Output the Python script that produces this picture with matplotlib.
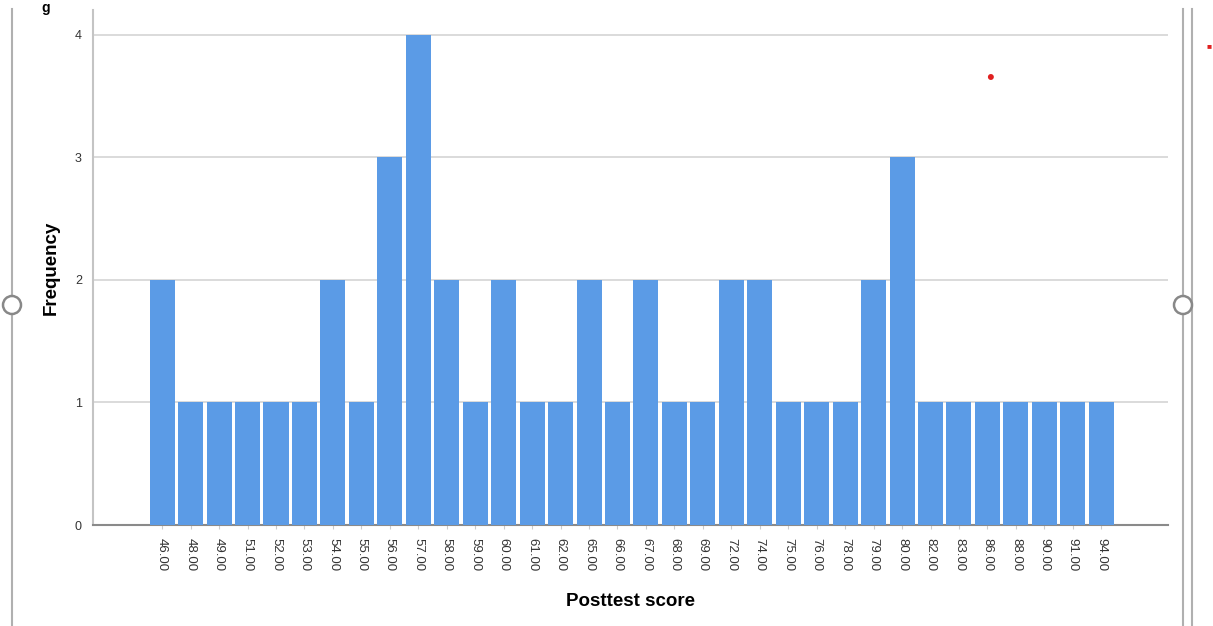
import matplotlib.pyplot as plt
from matplotlib.patches import Circle
from matplotlib.lines import Line2D

plt.rcParams['font.family'] = ['Liberation Sans', 'DejaVu Sans']

# posttest scores and how many students got each one
scores = [46, 48, 49, 51, 52, 53, 54, 55, 56, 57, 58, 59, 60, 61, 62, 65, 66,
          67, 68, 69, 72, 74, 75, 76, 78, 79, 80, 82, 83, 86, 88, 90, 91, 94]
counts = [2, 1, 1, 1, 1, 1, 2, 1, 3, 4, 2, 1, 2, 1, 1, 2, 1,
          2, 1, 1, 2, 2, 1, 1, 1, 2, 3, 1, 1, 1, 1, 1, 1, 1]
score_labels = ['%.2f' % s for s in scores]

fig = plt.figure(figsize=(12.13, 6.26), dpi=100)
ax = fig.add_axes([0.0767, 0.1613, 0.8863, 0.8227])

pos = list(range(len(scores)))
ax.bar(pos, counts, width=0.88, color='#5b9be6', edgecolor='none', zorder=3)

ax.set_xlim(-2.43, len(scores) + 1.35)
ax.set_ylim(0, 4.2)
ax.set_yticks([0, 1, 2, 3, 4])
ax.set_xticks(pos)
ax.set_xticklabels(score_labels, rotation=270, fontsize=9.5, color='#333333')
ax.tick_params(axis='y', labelsize=9, colors='#333333', length=0, pad=8)
ax.tick_params(axis='x', length=3, color='#cccccc', pad=6)

ax.grid(axis='y', color='#d4d4d4', linewidth=1.2, zorder=0)
for side in ['top', 'right']:
    ax.spines[side].set_visible(False)
ax.spines['left'].set_color('#c4c4c4')
ax.spines['left'].set_linewidth(1.5)
ax.spines['bottom'].set_color('#8a8a8a')
ax.spines['bottom'].set_linewidth(1.5)

ax.set_ylabel('Frequency', fontsize=13.5, fontweight='bold')
ax.yaxis.set_label_coords(-0.031, 0.5)
ax.set_xlabel('Posttest score', fontsize=13.5, fontweight='bold', labelpad=16)

# page frame around the chart
H = 626
for x in [12, 1183, 1192]:
    fig.add_artist(Line2D([x / 1213, x / 1213], [0, 0.985], color='#b0b0b0',
                          linewidth=1.5, transform=fig.transFigure))
for x in [12, 1183]:
    fig.add_artist(Circle((x, H - 305), 9, transform=None,
                          facecolor='white', edgecolor='#888888', linewidth=1.8,
                          zorder=5))
fig.text(46 / 1213, 0.999, 'g', fontsize=10, fontweight='bold',
         ha='center', va='top')
fig.text(1209 / 1213, 1 - 47 / 626, '■', color='#e02020', fontsize=6,
         ha='center', va='center')
fig.text(990 / 1213, 1 - 78 / 626, '•', color='#e02020', fontsize=16,
         ha='center', va='center')

plt.savefig('out.png', dpi=100)
